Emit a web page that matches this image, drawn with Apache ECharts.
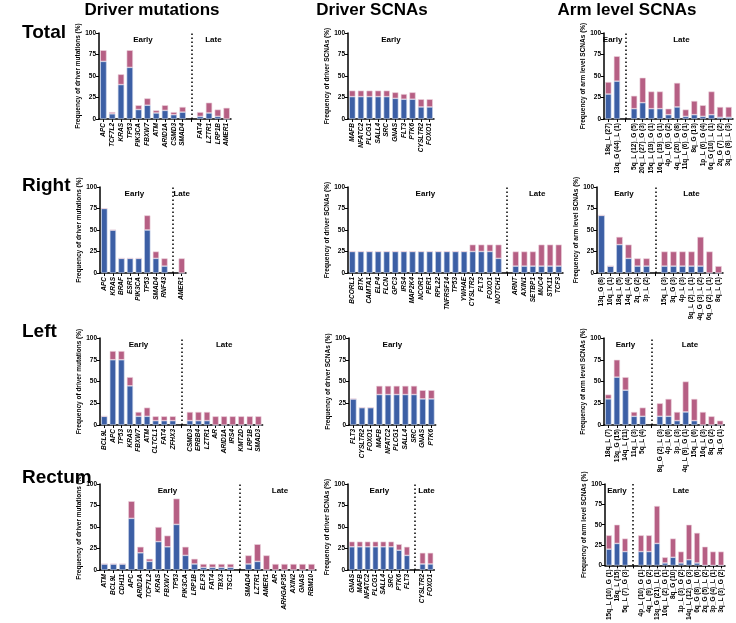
<!DOCTYPE html>
<html><head><meta charset="utf-8">
<script src="https://cdn.jsdelivr.net/npm/echarts@6/dist/echarts.min.js"></script>
<style>html,body{margin:0;padding:0;background:#fff}#c{width:736px;height:623px}</style>
</head><body><div id="c"></div><script>
// ---------- DATA ----------
const yTicks = [0, 25, 50, 75, 100];
// Total
const totalMutCats = ['APC','TCF7L2','KRAS','TP53','PIK3CA','FBXW7','ATM','ARID1A','CSMD3','SMAD4','','FAT4','LZTR1','LRP1B','AMER1'];
const totalMutBlue = [67,6,40,60,11,16,7,10,5,8,null,3,7,3,0];
const totalMutPink = [13,2,12,20,5,8,3,6,3,6,null,5,12,8,13];
const totalScnaCats = ['MAFB','NFATC2','PLCG1','SALL4','SRC','GNAS','FLT3','PTK6','CYSLTR2','FOXO1'];
const totalScnaBlue = [26,26,26,26,26,24,23,23,14,14];
const totalScnaPink = [7,7,7,7,7,7,6,8,9,9];
const totalArmCats = ['18q_L (27)','13q_G (44)_L (1)','','5q_L (12)_G (5)','20q_L (27)_G (3)','15q_L (19)_G (1)','16q_L (19)_G (1)','4p_L (6)_G (2)','4q_L (20)_G (8)','11q_L (6)_G (1)','8q_G (13)','1p_L (6)_G (4)','6q_G (10)_L (1)','2q_G (7)_L (2)','3q_G (8)_L (3)'];
const totalArmBlue = [29,44,null,12,19,12,12,5,14,3,5,3,5,2,2];
const totalArmPink = [14,29,null,15,29,20,20,7,28,8,16,13,27,12,12];
// Right
const rightMutCats = ['APC','KRAS','BRAF','ESR1','PIK3CA','TP53','SMAD4','RNF43','','AMER1'];
const rightMutBlue = [75,50,17,17,17,50,17,8,null,0];
const rightMutPink = [0,0,0,0,0,17,8,9,null,17];
const rightScnaCats = ['BCORL1','BTK','CAMTA1','ELP4','FLCN','GPC3','IRS4','MAP2K4','NCOR1','PER1','RPL22','TNFRSF14','TP53','YWHAE','CYSLTR2','FLT3','FOXO1','NOTCH1','','ARNT','AXIN1','SETBP1','MUC4','STK11','TCF3'];
const rightScnaBlue = [25,25,25,25,25,25,25,25,25,25,25,25,25,25,25,25,25,17,null,8,8,8,8,8,8];
const rightScnaPink = [0,0,0,0,0,0,0,0,0,0,0,0,0,0,8,8,8,16,null,17,17,17,25,25,25];
const rightArmCats = ['13q_G (8)','10q_L (1)','18q_L (5)','14q_L (4)','2q_G (2)','3p_L (2)','','15q_L (3)','3q_G (3)','4p_L (3)','9q_L (2)_L (1)','4q_G (3)_L (2)','6q_G (2)_L (1)','8q_L (1)'];
const rightArmBlue = [67,8,33,17,8,8,null,8,8,8,8,8,0,0];
const rightArmPink = [0,0,9,16,9,9,null,17,17,17,17,34,25,8];
// Left
const leftMutCats = ['BCL9L','APC','TP53','KRAS','FBXW7','ATM','CLTCL1','FAT4','ZFHX3','','CSMD3','ERBB4','LZTR1','AR','ARID1A','IRS4','KMT2D','LRP1B','SMAD3'];
const leftMutBlue = [10,75,75,45,10,10,5,5,5,null,5,5,5,0,0,0,0,0,0];
const leftMutPink = [0,10,10,10,5,10,5,5,5,null,10,10,10,10,10,10,10,10,10];
const leftScnaCats = ['FLT3','CYSLTR2','FOXO1','MAFB','NFATC2','PLCG1','SALL4','SRC','GNAS','PTK6'];
const leftScnaBlue = [30,20,20,35,35,35,35,35,30,30];
const leftScnaPink = [0,0,0,10,10,10,10,10,10,10];
const leftArmCats = ['18q_L (7)','13q_G (15)','14q_L (11)','11q_L (3)','5q_L (4)','','8q_G (2)_L (3)','4p_L (6)','3p_L (3)','4q_L (9)_G (1)','15q_L (6)','16q_L (3)','8q_G (2)','3q_G (1)'];
const leftArmBlue = [30,55,40,10,10,null,10,10,5,15,5,0,0,0];
const leftArmPink = [5,20,15,5,10,null,15,20,10,35,25,15,10,5];
// Rectum
const rectumMutCats = ['ATM','BCL9L','CDH11','APC','ARID1A','TCF7L2','KRAS','FBXW7','TP53','PIK3CA','LRP1B','ELF3','FAT4','TBX3','TSC1','','SMAD4','LZTR1','AMER1','AR','ARHGAP35','AXIN2','GNAS','RBM10'];
const rectumMutBlue = [7,7,7,60,20,10,33,27,53,17,7,3,3,3,3,null,7,10,0,0,0,0,0,0];
const rectumMutPink = [0,0,0,20,7,3,17,13,30,10,6,4,4,4,4,null,10,20,17,7,7,7,7,7];
const rectumScnaCats = ['GNAS','MAFB','NFATC2','PLCG1','SALL4','SRC','PTK6','FLT3','','CYSLTR2','FOXO1'];
const rectumScnaBlue = [27,27,27,27,27,27,23,17,null,7,7];
const rectumScnaPink = [6,6,6,6,6,6,7,10,null,13,13];
const rectumArmCats = ['15q_L (10)_G (1)','18q_L (15)','5q_L (7)_G (3)','','4p_L (10)_G (1)','4q_L (9)_G (2)','13q_G (21)_L (1)','10q_L (2)_G (1)','8q_G (10)','1p_L (3)_G (2)','14q_L (12)_G (3)','6q_G (8)_L (6)','2q_G (5)_L (2)','3p_G (4)_L (1)','3q_L (3)_G (2)'];
const rectumArmBlue = [20,27,17,null,17,17,27,3,10,3,7,3,0,0,0];
const rectumArmPink = [17,23,16,null,20,20,46,7,23,14,43,37,23,17,17];

const colTitles = ['Driver mutations','Driver SCNAs','Arm level SCNAs'];
const rowTitles = ['Total','Right','Left','Rectum'];
const yNames = ['Frequency of driver mutations (%)','Frequency of driver SCNAs (%)','Frequency of arm level SCNAs (%)'];

// ---------- LAYOUT ----------
const BLUE = '#3c5fa5', PINK = '#b65f84';
const FONT = '"Liberation Sans", Arial, sans-serif';
const panels = [
  {cats: totalMutCats, blue: totalMutBlue, pink: totalMutPink, col: 0, left: 99, top: 33, h: 86, slot: 8.8},
  {cats: totalScnaCats, blue: totalScnaBlue, pink: totalScnaPink, col: 1, left: 348, top: 33, h: 86, slot: 8.6},
  {cats: totalArmCats, blue: totalArmBlue, pink: totalArmPink, col: 2, left: 604, top: 33, h: 86, slot: 8.6},
  {cats: rightMutCats, blue: rightMutBlue, pink: rightMutPink, col: 0, left: 100, top: 187, h: 86, slot: 8.6},
  {cats: rightScnaCats, blue: rightScnaBlue, pink: rightScnaPink, col: 1, left: 348, top: 187, h: 86, slot: 8.6},
  {cats: rightArmCats, blue: rightArmBlue, pink: rightArmPink, col: 2, left: 597, top: 187, h: 86, slot: 9.0},
  {cats: leftMutCats, blue: leftMutBlue, pink: leftMutPink, col: 0, left: 100, top: 338, h: 87, slot: 8.56},
  {cats: leftScnaCats, blue: leftScnaBlue, pink: leftScnaPink, col: 1, left: 349, top: 338, h: 87, slot: 8.67},
  {cats: leftArmCats, blue: leftArmBlue, pink: leftArmPink, col: 2, left: 604, top: 338, h: 87, slot: 8.6},
  {cats: rectumMutCats, blue: rectumMutBlue, pink: rectumMutPink, col: 0, left: 100, top: 484, h: 86, slot: 9.0},
  {cats: rectumScnaCats, blue: rectumScnaBlue, pink: rectumScnaPink, col: 1, left: 348, top: 484, h: 86, slot: 7.85},
  {cats: rectumArmCats, blue: rectumArmBlue, pink: rectumArmPink, col: 2, left: 605, top: 484, h: 86, slot: 8.0}
];

const grid = [], xAxis = [], yAxis = [], series = [], graphic = [];
panels.forEach((p, i) => {
  const n = p.cats.length;
  const width = n * p.slot;
  grid.push({left: p.left, top: p.top, width: width, height: p.h, containLabel: false});
  const italic = p.col < 2;
  xAxis.push({
    type: 'category', gridIndex: i, data: p.cats,
    axisLine: {lineStyle: {color: '#000', width: 1.5}},
    axisTick: {show: true, alignWithLabel: true, length: 3, lineStyle: {color: '#000', width: 1}},
    axisLabel: {rotate: 90, interval: 0, margin: 4, fontSize: 6.5, fontWeight: 'bold',
      fontStyle: italic ? 'italic' : 'normal', color: '#000', fontFamily: FONT}
  });
  yAxis.push({
    type: 'value', gridIndex: i, min: 0, max: 100, interval: 25,
    name: yNames[p.col], nameLocation: 'middle', nameGap: 17,
    nameTextStyle: {fontSize: 6.5, fontWeight: 'bold', color: '#000', fontFamily: FONT},
    axisLine: {show: true, lineStyle: {color: '#000', width: 1.5}},
    axisTick: {show: true, length: 3, lineStyle: {color: '#000', width: 1}},
    axisLabel: {fontSize: 6.5, fontWeight: 'bold', color: '#000', margin: 3, fontFamily: FONT},
    splitLine: {show: false}
  });
  const gapIdx = p.cats.indexOf('');
  series.push({
    type: 'bar', xAxisIndex: i, yAxisIndex: i, stack: 's' + i, data: p.blue,
    barCategoryGap: '28%', itemStyle: {color: BLUE, borderColor: '#c9d4ea', borderWidth: 0.6},
    markLine: gapIdx >= 0 ? {
      silent: true, symbol: ['none', 'none'], label: {show: false},
      lineStyle: {type: [1.5, 2.5], color: '#000', width: 1.5},
      data: [{xAxis: gapIdx}]
    } : undefined
  });
  series.push({
    type: 'bar', xAxisIndex: i, yAxisIndex: i, stack: 's' + i, data: p.pink,
    barCategoryGap: '28%', itemStyle: {color: PINK, borderColor: '#ecd3dd', borderWidth: 0.6}
  });
  // Early / Late headers
  const earlyN = gapIdx >= 0 ? gapIdx : n;
  graphic.push({type: 'text', x: p.left + earlyN * p.slot / 2, y: p.top + 3,
    style: {text: 'Early', font: 'bold 8px ' + FONT, fill: '#000', textAlign: 'center', textVerticalAlign: 'top'}});
  if (gapIdx >= 0) {
    graphic.push({type: 'text', x: p.left + (gapIdx + 1 + (n - gapIdx - 1) / 2) * p.slot, y: p.top + 3,
      style: {text: 'Late', font: 'bold 8px ' + FONT, fill: '#000', textAlign: 'center', textVerticalAlign: 'top'}});
  }
});
const colX = [152, 372, 627];
colTitles.forEach((t, j) => graphic.push({type: 'text', x: colX[j], y: 2,
  style: {text: t, font: 'bold 17px ' + FONT, fill: '#000', textAlign: 'center', textVerticalAlign: 'top'}}));
const rowY = [23, 176, 322, 468];
rowTitles.forEach((t, j) => graphic.push({type: 'text', x: 22, y: rowY[j],
  style: {text: t, font: 'bold 19px ' + FONT, fill: '#000', textVerticalAlign: 'top'}}));

const chart = echarts.init(document.getElementById('c'), null, {renderer: 'canvas'});
chart.setOption({animation: false, grid, xAxis, yAxis, series, graphic});
</script></body></html>
